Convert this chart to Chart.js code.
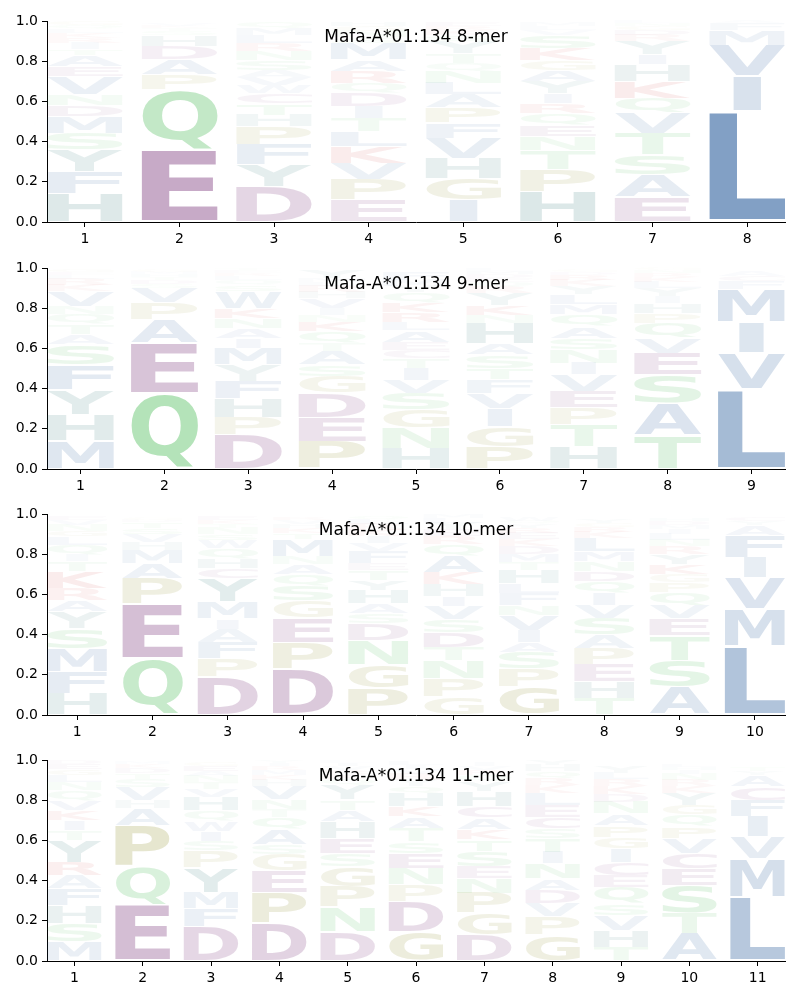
<!DOCTYPE html>
<html>
<head>
<meta charset="utf-8">
<script src="https://cdn.jsdelivr.net/npm/chart.js@4"></script>
<style>
  body { margin: 0; background: #fff; }
  #wrap { position: relative; width: 800px; height: 1000px; }
  canvas { position: absolute; left: 0; }
</style>
</head>
<body>
<div id="wrap">
  <canvas id="c8" width="800" height="246" style="top:0px"></canvas>
  <canvas id="c9" width="800" height="246" style="top:247px"></canvas>
  <canvas id="c10" width="800" height="246" style="top:493px"></canvas>
  <canvas id="c11" width="800" height="246" style="top:739px"></canvas>
</div>
<script>
// letters of each position, bottom to top, with their frequencies
const titles = ['Mafa-A*01:134 8-mer', 'Mafa-A*01:134 9-mer', 'Mafa-A*01:134 10-mer', 'Mafa-A*01:134 11-mer'];
const yTicks = [0, 0.2, 0.4, 0.6, 0.8, 1.0];

const letters8 = ['HFYSMDNVEATIRKLQG', 'EQPADHSTKVMG', 'DYFPHTCWVASNRLMQ', 'EPVKLTIDQRAMSNGH',
  'IGHVFPALNQTYSKRE', 'HPTNEQRIYAGKSVLM', 'EASTVQKHIYRDGNL', 'LIVMFAYC'];
const heights8 = [
  [.143, .108, .108, .083, .083, .055, .053, .09, .05, .058, .03, .03, .025, .025, .02, .02, .02],
  [.36, .30, .075, .075, .066, .055, .02, .015, .01, .01, .005, .005],
  [.176, .108, .10, .09, .058, .058, .05, .04, .04, .035, .05, .045, .04, .04, .035, .03],
  [.11, .10, .083, .083, .075, .066, .058, .066, .05, .058, .058, .083, .03, .03, .025, .02],
  [.11, .108, .10, .10, .075, .075, .066, .058, .058, .04, .05, .058, .03, .025, .02, .02],
  [.15, .11, .096, .07, .055, .058, .05, .05, .058, .058, .05, .058, .066, .025, .02, .02],
  [.123, .111, .10, .108, .10, .075, .083, .083, .05, .066, .03, .025, .02, .015, .01],
  [.555, .17, .155, .075, .035, .01, .005, .005]
];

const letters9 = ['MHYFSATQNVKRLEG', 'QEAPVSDTHMG', 'DPHFYMIANKWSQLRET', 'PEDGSATQKNIVHRLMY',
  'HNGSVITCEALRKQYMF', 'PGIVFTSAHNKYRQEDML', 'HTPEVINSAQMLYKRDG', 'TASEVQPHIYLKRNG', 'LVIMFCA'];
const heights9 = [
  [.14, .13, .125, .125, .10, .05, .05, .05, .04, .075, .03, .03, .02, .015, .015],
  [.378, .25, .116, .083, .075, .02, .02, .015, .015, .01, .01],
  [.17, .086, .096, .086, .08, .083, .05, .05, .05, .05, .083, .03, .025, .02, .015, .01, .01],
  [.138, .12, .12, .083, .058, .066, .04, .058, .05, .033, .033, .05, .03, .03, .02, .02, .04],
  [.104, .10, .09, .083, .066, .058, .05, .04, .04, .058, .04, .05, .05, .05, .03, .03, .04],
  [.113, .10, .09, .075, .066, .058, .066, .058, .10, .04, .05, .058, .03, .025, .02, .02, .015, .01],
  [.113, .108, .083, .083, .083, .058, .066, .058, .058, .058, .05, .05, .04, .03, .025, .015, .01],
  [.17, .158, .14, .108, .075, .075, .05, .05, .033, .04, .03, .025, .02, .015, .01],
  [.40, .18, .15, .165, .04, .025, .025]
];

const letters10 = ['HFMSYARKTIQLGNVE', 'QEPAMHVSTDG', 'DPFAIMYCHQWSNTKE', 'DPEGSQANMTKHVR',
  'PGNDSAHYTEFVIKRLQ', 'GPNTDSVIHKAQREYLM', 'GPSAIVNFLHTMDKERYQW', 'THEPASVIQDNMLKRGY',
  'ASTEVQPGKYRNLIMDH', 'LMVIFAYC'];
const heights10 = [
  [.108, .108, .116, .10, .083, .058, .058, .083, .05, .033, .05, .04, .03, .03, .025, .02],
  [.28, .27, .13, .075, .066, .04, .04, .03, .03, .01, .01],
  [.19, .09, .083, .066, .05, .083, .116, .05, .05, .05, .04, .03, .03, .02, .02, .02],
  [.23, .13, .124, .083, .075, .058, .05, .04, .083, .03, .025, .02, .02, .015],
  [.133, .116, .124, .083, .05, .05, .066, .05, .05, .033, .058, .04, .035, .03, .03, .025, .02],
  [.09, .09, .09, .066, .075, .066, .066, .05, .058, .058, .083, .058, .04, .035, .03, .025, .02],
  [.14, .09, .083, .05, .058, .075, .05, .058, .05, .066, .04, .04, .04, .035, .03, .025, .02, .015, .02],
  [.083, .083, .086, .08, .066, .083, .066, .058, .058, .05, .05, .05, .066, .03, .025, .02, .02],
  [.14, .133, .124, .083, .066, .066, .05, .04, .05, .05, .04, .03, .03, .025, .02, .02, .015],
  [.345, .185, .155, .10, .11, .05, .02, .02]
];

const letters11 = ['MSHFARYTIKVQNLGED', 'EQPAHVSTDKMG', 'DFMYPSIWQHVTNAEG', 'DPEGSAQTNVHKMRIY',
  'DNPGSEHATYQKRVIL', 'GDPNESTAKHQYRVIL', 'DGPNESTKACHYQRVI', 'GPVDANITSCELKRQHY',
  'THVSQECIGPANDKRLY', 'ATSECVPQGYKRNIHL', 'LMVIFCAYT'];
const heights11 = [
  [.096, .09, .09, .083, .066, .066, .108, .05, .05, .05, .05, .05, .04, .035, .03, .025, .02],
  [.28, .19, .205, .083, .04, .066, .04, .03, .025, .02, .01, .005],
  [.17, .09, .08, .125, .083, .05, .05, .05, .05, .066, .04, .035, .03, .025, .025, .02],
  [.19, .15, .108, .083, .05, .075, .058, .04, .05, .066, .03, .025, .025, .02, .015, .015],
  [.146, .124, .10, .10, .066, .075, .083, .058, .05, .075, .03, .025, .02, .02, .015, .01],
  [.146, .15, .083, .083, .075, .058, .066, .058, .05, .066, .035, .03, .03, .025, .02, .02],
  [.13, .108, .10, .075, .058, .075, .058, .05, .058, .058, .075, .05, .03, .025, .02, .02],
  [.13, .09, .066, .066, .058, .075, .058, .066, .05, .058, .058, .058, .04, .035, .035, .03, .025],
  [.07, .083, .075, .058, .083, .058, .066, .066, .058, .058, .058, .058, .04, .04, .035, .03, .03],
  [.138, .10, .14, .083, .075, .075, .058, .058, .05, .058, .035, .03, .03, .02, .015, .015],
  [.32, .19, .108, .10, .083, .066, .058, .02, .02]
];

// colour groups
const groupColor = {
  blue: [30, 85, 150], purple: [100, 20, 100], green: [55, 180, 70],
  olive: [130, 130, 20], teal: [20, 100, 100], red: [200, 20, 20]
};
const letterGroup = {
  A: 'blue', V: 'blue', L: 'blue', I: 'blue', M: 'blue', F: 'blue', W: 'blue',
  D: 'purple', E: 'purple', C: 'purple',
  Q: 'green', N: 'green', S: 'green', T: 'green',
  P: 'olive', G: 'olive',
  H: 'teal', Y: 'teal',
  K: 'red', R: 'red'
};

function letterColor(ch, h) {
  const c = groupColor[letterGroup[ch]] || [120, 120, 120];
  return 'rgba(' + c[0] + ',' + c[1] + ',' + c[2] + ',' + Math.min(1, h) + ')';
}

// narrow letters are not stretched wider than 'E' would be
function inkWidth(ctx, ch) {
  const m = ctx.measureText(ch);
  return m.actualBoundingBoxLeft + m.actualBoundingBoxRight;
}

const logoLetters = {
  id: 'logoLetters',
  afterDatasetsDraw(chart) {
    const ctx = chart.ctx;
    const area = chart.chartArea;
    ctx.save();
    ctx.beginPath();
    ctx.rect(area.left, area.top - 2, area.right - area.left, area.bottom - area.top + 2);
    ctx.clip();
    ctx.font = 'bold 100px "DejaVu Sans"';
    ctx.textAlign = 'left';
    ctx.textBaseline = 'alphabetic';
    const wE = inkWidth(ctx, 'E');
    chart.data.datasets.forEach((ds, i) => {
      chart.getDatasetMeta(i).data.forEach((bar, j) => {
        const ch = ds.letters[j];
        const h = ds.data[j].y;
        if (!ch || !h) return;
        const p = bar.getProps(['x', 'y', 'base', 'width'], true);
        const top = Math.min(p.y, p.base);
        const hh = Math.abs(p.base - p.y);
        if (hh < 0.5) return;
        const pad = hh * 0.025;
        const m = ctx.measureText(ch);
        const gw = m.actualBoundingBoxLeft + m.actualBoundingBoxRight;
        const gh = m.actualBoundingBoxAscent + m.actualBoundingBoxDescent;
        const sx = Math.min(p.width / gw, p.width / wE);
        const w = gw * sx;
        ctx.save();
        ctx.translate(p.x - w / 2, top + pad);
        ctx.scale(sx, (hh - 2 * pad) / gh);
        ctx.fillStyle = letterColor(ch, h);
        ctx.fillText(ch, m.actualBoundingBoxLeft, m.actualBoundingBoxAscent);
        ctx.restore();
      });
    });
    ctx.restore();
  },
  afterDraw(chart, args, opts) {
    const ctx = chart.ctx;
    const area = chart.chartArea;
    ctx.save();
    ctx.font = '17px "DejaVu Sans"';
    ctx.fillStyle = '#000';
    ctx.textAlign = 'center';
    ctx.textBaseline = 'alphabetic';
    ctx.fillText(opts.text, (area.left + area.right) / 2, area.top + 21);
    ctx.restore();
  }
};

function makeChart(id, title, letters, heights) {
  const positions = letters.map((_, i) => i + 1);
  const depth = Math.max(...letters.map(s => s.length));
  const datasets = [];
  for (let k = 0; k < depth; k++) {
    datasets.push({
      data: positions.map((p, j) => ({ x: p, y: heights[j][k] || 0 })),
      letters: letters.map(s => s[k] || ''),
      backgroundColor: 'rgba(0,0,0,0)',
      borderWidth: 0,
      categoryPercentage: 1,
      barPercentage: 0.8
    });
  }
  return new Chart(document.getElementById(id), {
    type: 'bar',
    data: { datasets: datasets },
    options: {
      responsive: false,
      animation: false,
      devicePixelRatio: 1,
      layout: { padding: { top: 21, right: 15, left: 0, bottom: 0 } },
      plugins: {
        legend: { display: false },
        tooltip: { enabled: false },
        logoLetters: { text: title }
      },
      scales: {
        x: {
          type: 'linear',
          stacked: true,
          offset: false,
          min: 0.6,
          max: positions.length + 0.4,
          afterBuildTicks: s => { s.ticks = positions.map(v => ({ value: v })); },
          afterFit: s => { s.height = 24; },
          grid: { offset: false, drawOnChartArea: false, drawTicks: true, tickLength: 5, color: '#000' },
          border: { display: true, color: '#000', width: 1 },
          ticks: { color: '#000', padding: 4, maxRotation: 0, font: { family: 'DejaVu Sans', size: 14 } }
        },
        y: {
          stacked: true,
          min: 0,
          max: 1,
          afterBuildTicks: s => { s.ticks = yTicks.map(v => ({ value: v })); },
          afterFit: s => { s.width = 47; },
          grid: { drawOnChartArea: false, drawTicks: true, tickLength: 5, color: '#000' },
          border: { display: true, color: '#000', width: 1 },
          ticks: {
            color: '#000', padding: 4,
            font: { family: 'DejaVu Sans', size: 14 },
            callback: v => Number(v).toFixed(1)
          }
        }
      }
    },
    plugins: [logoLetters]
  });
}

makeChart('c8', titles[0], letters8, heights8);
makeChart('c9', titles[1], letters9, heights9);
makeChart('c10', titles[2], letters10, heights10);
makeChart('c11', titles[3], letters11, heights11);
</script>
</body>
</html>
